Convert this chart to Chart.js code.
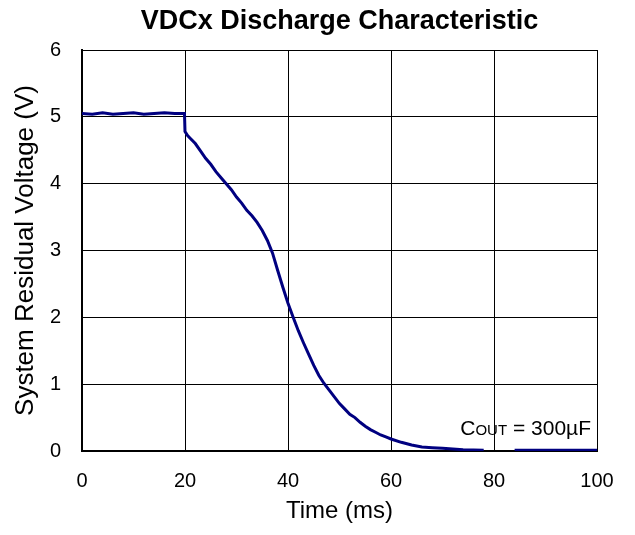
<!DOCTYPE html>
<html>
<head>
<meta charset="utf-8">
<script src="https://cdn.jsdelivr.net/npm/chart.js@4.4.1/dist/chart.umd.min.js"></script>
<style>
  html, body { margin: 0; padding: 0; background: #fff; }
</style>
</head>
<body>
<canvas id="discharge-chart" width="635" height="535"></canvas>
<script>
// discharge curve
const timeMs = [0, 2, 4, 6, 8, 10, 12, 14, 16, 18, 19.9,
    20, 20.5, 21, 22, 23, 24, 25, 26, 27, 28, 29, 30, 31, 32, 33, 34, 35, 36, 37, 38, 39,
    40, 41, 42, 43, 44, 45, 46, 47, 48, 49, 50, 51, 52, 53, 54, 55, 56, 57, 58, 59,
    60, 62, 64, 66, 68, 70, 72, 74, 76, 78, 79, 83, 84, 88, 92, 96, 100];
const voltage = [5.05, 5.04, 5.06, 5.04, 5.05, 5.06, 5.04, 5.05, 5.06, 5.05, 5.05,
    4.78, 4.72, 4.68, 4.6, 4.49, 4.38, 4.29, 4.18, 4.09, 4.0, 3.91, 3.8, 3.71, 3.6, 3.52, 3.42, 3.3, 3.15, 2.96, 2.7, 2.45,
    2.21, 2.0, 1.8, 1.62, 1.45, 1.28, 1.13, 1.01, 0.91, 0.81, 0.71, 0.63, 0.55, 0.5, 0.43, 0.37, 0.32, 0.28, 0.24, 0.21,
    0.18, 0.13, 0.09, 0.06, 0.05, 0.04, 0.03, 0.02, 0.015, 0.01, null, null, 0.01, 0.01, 0.01, 0.01, 0.01];
const xTicks = [0, 20, 40, 60, 80, 100];
const yTicks = [0, 1, 2, 3, 4, 5, 6];

const FONT = 'Liberation Sans, Arial, sans-serif';

// title centred over the plot, plus the "COUT = 300µF" note
const annotations = {
    id: 'annotations',
    afterDatasetsDraw(chart) {
        const ctx = chart.ctx;
        const area = chart.chartArea;
        ctx.save();
        ctx.fillStyle = '#000';

        ctx.font = 'bold 27px ' + FONT;
        ctx.textAlign = 'center';
        ctx.textBaseline = 'middle';
        ctx.fillText('VDCx Discharge Characteristic', (area.left + area.right) / 2, 22);

        const parts = [['C', 21], ['OUT', 15], [' = 300\u00B5F', 21]];
        ctx.textAlign = 'left';
        ctx.textBaseline = 'alphabetic';
        let w = 0;
        parts.forEach(p => { ctx.font = p[1] + 'px ' + FONT; w += ctx.measureText(p[0]).width; });
        let x = area.right - 6 - w;
        const y = area.bottom - 16;
        parts.forEach(p => {
            ctx.font = p[1] + 'px ' + FONT;
            ctx.fillText(p[0], x, y);
            x += ctx.measureText(p[0]).width;
        });
        ctx.restore();
    }
};

new Chart(document.getElementById('discharge-chart'), {
    type: 'line',
    data: {
        datasets: [{
            data: timeMs.map((t, i) => ({x: t, y: voltage[i]})),
            borderColor: '#000080',
            borderWidth: 3,
            pointRadius: 0,
            tension: 0,
            spanGaps: false
        }]
    },
    options: {
        responsive: false,
        animation: false,
        devicePixelRatio: 1,
        layout: { padding: { top: 50, right: 38, bottom: 0, left: 0 } },
        plugins: {
            legend: { display: false },
            tooltip: { enabled: false },
            title: { display: false }
        },
        scales: {
            x: {
                type: 'linear',
                min: 0,
                max: 100,
                afterBuildTicks: scale => { scale.ticks = xTicks.map(v => ({value: v})); },
                afterFit: scale => { scale.height = 84; },
                ticks: { color: '#000', font: { family: FONT, size: 20 }, padding: 18, maxRotation: 0 },
                grid: { color: '#000', lineWidth: 1, drawTicks: false },
                border: { color: '#000', width: 2 },
                title: {
                    display: true,
                    text: 'Time (ms)',
                    color: '#000',
                    font: { family: FONT, size: 24 },
                    padding: { top: 0, bottom: 9 }
                }
            },
            y: {
                min: 0,
                max: 6,
                afterBuildTicks: scale => { scale.ticks = yTicks.map(v => ({value: v})); },
                afterFit: scale => { scale.width = 82; },
                ticks: { color: '#000', font: { family: FONT, size: 20 }, padding: 21 },
                grid: { color: '#000', lineWidth: 1, drawTicks: false },
                border: { color: '#000', width: 2 },
                title: {
                    display: true,
                    text: 'System Residual Voltage (V)',
                    color: '#000',
                    font: { family: FONT, size: 26 },
                    padding: { top: 10.4, bottom: 0 }
                }
            }
        }
    },
    plugins: [annotations]
});
</script>
</body>
</html>
